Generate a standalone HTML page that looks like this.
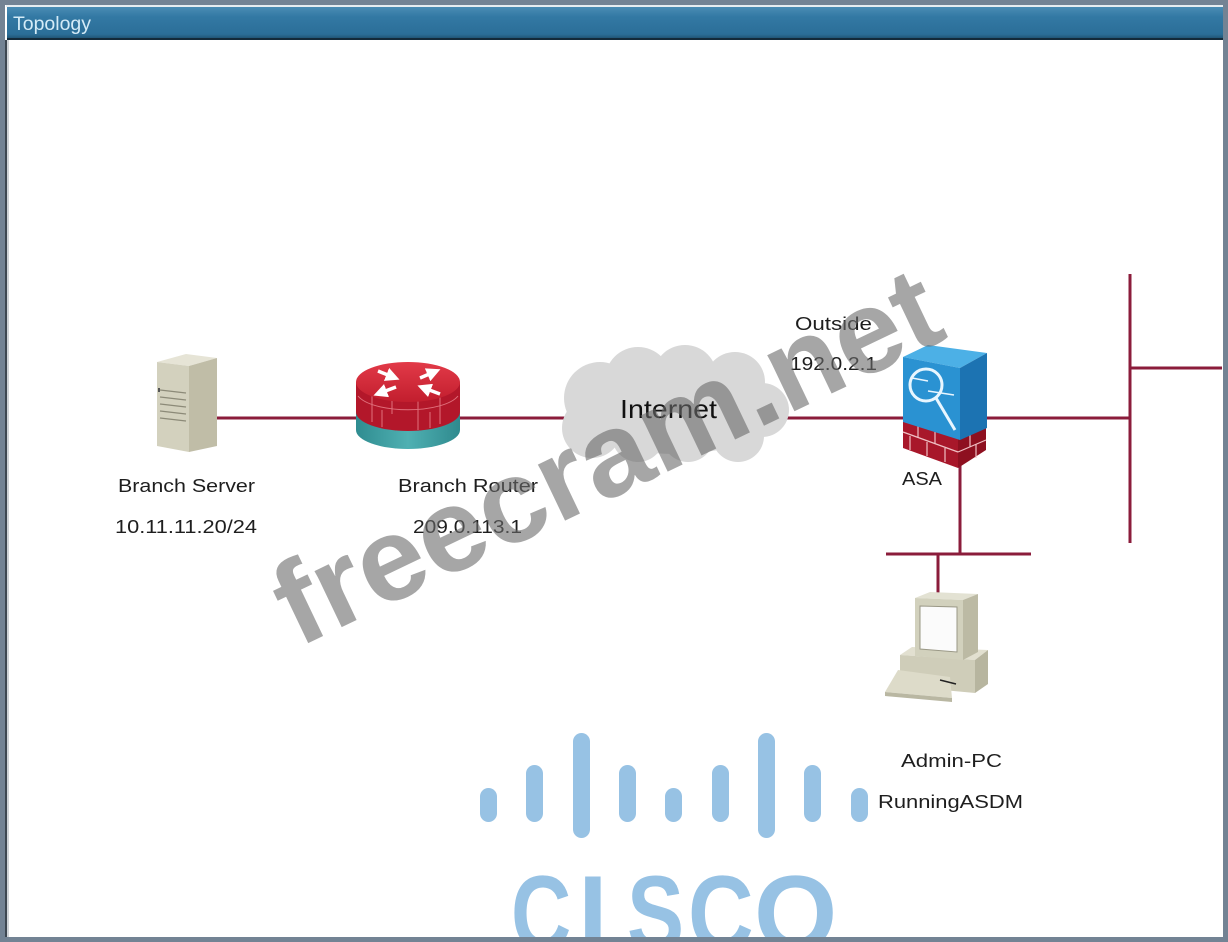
<!DOCTYPE html>
<html><head><meta charset="utf-8"><style>
html,body{margin:0;padding:0;width:1228px;height:942px;overflow:hidden;background:#738394;}
svg{display:block;}
text{font-family:"Liberation Sans",sans-serif;}
</style></head><body>
<svg width="1228" height="942" viewBox="0 0 1228 942" xmlns="http://www.w3.org/2000/svg">
<defs>
<linearGradient id="hg" x1="0" y1="0" x2="0" y2="1">
<stop offset="0" stop-color="#4a8cb4"/><stop offset="0.3" stop-color="#3379a4"/><stop offset="0.85" stop-color="#2b6e98"/><stop offset="1" stop-color="#1e4f6e"/>
</linearGradient>
<linearGradient id="rtop" x1="0" y1="0" x2="0" y2="1">
<stop offset="0" stop-color="#e23a48"/><stop offset="1" stop-color="#c21e2e"/>
</linearGradient>
<linearGradient id="teal" x1="0" y1="0" x2="1" y2="0">
<stop offset="0" stop-color="#2f8c90"/><stop offset="0.5" stop-color="#4fb0b2"/><stop offset="1" stop-color="#2f8a8e"/>
</linearGradient>
<marker id="ah" markerWidth="4" markerHeight="4" refX="2" refY="2" orient="auto" markerUnits="strokeWidth">
<path d="M0,0 L4,2 L0,4 Z" fill="#fff"/>
</marker>
</defs>

<!-- frame -->
<rect x="0" y="0" width="1228" height="942" fill="#738394"/>
<rect x="5" y="5" width="1218" height="932" fill="#ffffff"/>
<rect x="5" y="40" width="2" height="897" fill="#3e4852"/>
<rect x="7" y="40" width="2" height="897" fill="#cfd3d7"/>
<rect x="6" y="5" width="1217" height="2" fill="#e6ecf0"/>
<rect x="7" y="7" width="1216" height="32" fill="url(#hg)"/>
<rect x="7" y="38" width="1216" height="2" fill="#132a3a"/>
<text x="13" y="30" font-size="19" fill="#d4ebf7" textLength="78" lengthAdjust="spacingAndGlyphs">Topology</text>

<!-- connectors -->
<g stroke="#8b1c3b" stroke-width="3" fill="none">
<line x1="215" y1="418" x2="1130" y2="418"/>
<line x1="1130" y1="274" x2="1130" y2="543"/>
<line x1="1130" y1="368" x2="1222" y2="368"/>
<line x1="960" y1="460" x2="960" y2="554"/>
<line x1="886" y1="554" x2="1031" y2="554"/>
<line x1="938" y1="554" x2="938" y2="596"/>
</g>

<!-- Branch server -->
<g>
<polygon points="157,362 186,354 217,358 189,366" fill="#e6e4d6"/>
<polygon points="157,362 189,366 189,452 157,446" fill="#d3d1be"/>
<polygon points="189,366 217,358 217,446 189,452" fill="#c0bda7"/>
<g stroke="#8c8a78" stroke-width="1.2">
<line x1="160" y1="390" x2="186" y2="393"/>
<line x1="160" y1="397" x2="186" y2="400"/>
<line x1="160" y1="404" x2="186" y2="407"/>
<line x1="160" y1="411" x2="186" y2="414"/>
<line x1="160" y1="418" x2="186" y2="421"/>
</g>
<rect x="158" y="388" width="2" height="4" fill="#555"/>
</g>

<!-- Branch router -->
<g>
<path d="M356,410 L356,430 A52,19 0 0 0 460,430 L460,410 Z" fill="url(#teal)"/>
<path d="M356,382 L356,412 A52,19 0 0 0 460,412 L460,382 Z" fill="#b3172a"/>
<g stroke="#e0707c" stroke-width="1" fill="none">
<path d="M358,396 A52,19 0 0 0 458,396"/>
<line x1="372" y1="396" x2="372" y2="422"/>
<line x1="392" y1="400" x2="392" y2="414"/>
<line x1="418" y1="400" x2="418" y2="430"/>
<line x1="440" y1="396" x2="440" y2="424"/>
<line x1="382" y1="410" x2="382" y2="427"/>
<line x1="430" y1="412" x2="430" y2="428"/>
</g>
<ellipse cx="408" cy="382" rx="52" ry="20" fill="url(#rtop)"/>
<g stroke="#ffffff" stroke-width="3.5" fill="none" marker-end="url(#ah)">
<line x1="378" y1="371" x2="393" y2="377"/>
<line x1="420" y1="378" x2="434" y2="372"/>
<line x1="396" y1="387" x2="380" y2="393"/>
<line x1="440" y1="394" x2="424" y2="388"/>
</g>
</g>

<!-- Internet cloud -->
<g fill="#d8d8d8">
<ellipse cx="675" cy="408" rx="105" ry="46"/>
<circle cx="600" cy="398" r="36"/>
<circle cx="638" cy="380" r="33"/>
<circle cx="685" cy="377" r="32"/>
<circle cx="735" cy="382" r="30"/>
<circle cx="762" cy="410" r="27"/>
<circle cx="738" cy="436" r="26"/>
<circle cx="688" cy="436" r="26"/>
<circle cx="638" cy="436" r="26"/>
<circle cx="592" cy="428" r="30"/>
</g>
<text x="620" y="418" font-size="26" fill="#111" textLength="97" lengthAdjust="spacingAndGlyphs">Internet</text>

<!-- ASA -->
<g>
<polygon points="903,420 958,438 958,468 903,448" fill="#a8172a"/>
<polygon points="958,438 986,428 986,450 958,468" fill="#8e1020"/>
<g stroke="#f0c0c4" stroke-width="1.2" fill="none">
<line x1="903" y1="432" x2="958" y2="452"/>
<line x1="958" y1="452" x2="986" y2="440"/>
<line x1="918" y1="426" x2="918" y2="438"/>
<line x1="935" y1="432" x2="935" y2="444"/>
<line x1="910" y1="436" x2="910" y2="450"/>
<line x1="927" y1="442" x2="927" y2="456"/>
<line x1="945" y1="448" x2="945" y2="462"/>
<line x1="970" y1="434" x2="970" y2="447"/>
<line x1="976" y1="444" x2="976" y2="458"/>
</g>
<polygon points="903,357 928,345 987,353 960,368" fill="#4cb0e6"/>
<polygon points="903,357 960,368 960,440 903,422" fill="#2a92d2"/>
<polygon points="960,368 987,353 987,428 960,440" fill="#1c73b2"/>
<g stroke="#e8f6ff" stroke-width="3" fill="none">
<circle cx="926" cy="385" r="16"/>
<line x1="936" y1="398" x2="955" y2="430"/>
</g>
<g stroke="#e8f6ff" stroke-width="1.5" fill="none">
<line x1="912" y1="378" x2="928" y2="381"/>
<line x1="928" y1="391" x2="954" y2="395"/>
</g>
</g>

<!-- Admin PC -->
<g>
<polygon points="900,655 912,647 988,650 975,660" fill="#e2e0d0"/>
<polygon points="900,655 975,660 975,693 900,686" fill="#cfcdb9"/>
<polygon points="975,660 988,650 988,684 975,693" fill="#b7b59f"/>
<polygon points="915,598 930,592 978,594 963,600" fill="#e3e2d3"/>
<polygon points="915,598 963,600 963,660 915,656" fill="#d2d1bd"/>
<polygon points="963,600 978,594 978,652 963,660" fill="#bcbaa4"/>
<polygon points="920,606 957,607 957,652 920,649" fill="#fbfbfb" stroke="#9a9886" stroke-width="1"/>
<polygon points="885,692 898,670 950,677 952,698" fill="#dddbc9"/>
<polygon points="885,692 952,698 952,702 885,696" fill="#b9b7a2"/>
<line x1="940" y1="680" x2="956" y2="684" stroke="#222" stroke-width="1.5"/>
</g>

<!-- labels -->
<g fill="#1e1e1e" font-size="18">
<text x="118" y="492" textLength="137" lengthAdjust="spacingAndGlyphs">Branch Server</text>
<text x="115" y="533" textLength="142" lengthAdjust="spacingAndGlyphs">10.11.11.20/24</text>
<text x="398" y="492" textLength="140" lengthAdjust="spacingAndGlyphs">Branch Router</text>
<text x="413" y="533" textLength="109" lengthAdjust="spacingAndGlyphs">209.0.113.1</text>
<text x="795" y="330" textLength="77" lengthAdjust="spacingAndGlyphs">Outside</text>
<text x="790" y="370" textLength="87" lengthAdjust="spacingAndGlyphs">192.0.2.1</text>
<text x="902" y="485" textLength="40" lengthAdjust="spacingAndGlyphs">ASA</text>
<text x="901" y="767" textLength="101" lengthAdjust="spacingAndGlyphs">Admin-PC</text>
<text x="878" y="808" textLength="145" lengthAdjust="spacingAndGlyphs">RunningASDM</text>
</g>

<!-- watermark -->
<text x="0" y="0" transform="translate(298,648) rotate(-25.5)" font-size="118" font-weight="bold" fill="#6a6a6a" fill-opacity="0.6" textLength="722" lengthAdjust="spacingAndGlyphs">freecram.net</text>

<!-- cisco logo -->
<g fill="#97c2e4">
<rect x="480" y="788" width="17" height="34" rx="8.5"/>
<rect x="526" y="765" width="17" height="57" rx="8.5"/>
<rect x="573" y="733" width="17" height="105" rx="8.5"/>
<rect x="619" y="765" width="17" height="57" rx="8.5"/>
<rect x="665" y="788" width="17" height="34" rx="8.5"/>
<rect x="712" y="765" width="17" height="57" rx="8.5"/>
<rect x="758" y="733" width="17" height="105" rx="8.5"/>
<rect x="804" y="765" width="17" height="57" rx="8.5"/>
<rect x="851" y="788" width="17" height="34" rx="8.5"/>
</g>
<g fill="#97c2e4" font-size="107" font-weight="bold">
<text transform="translate(511,950) scale(0.78,1)">C</text>
<text transform="translate(578,950)">I</text>
<text transform="translate(627,950) scale(0.8,1)">S</text>
<text transform="translate(688,950) scale(0.85,1)">C</text>
<text transform="translate(754,950)">O</text>
</g>

<!-- border overlay -->
<rect x="0" y="937" width="1228" height="5" fill="#738394"/>
<rect x="1223" y="0" width="5" height="942" fill="#738394"/>
<rect x="0" y="0" width="5" height="942" fill="#738394"/>
</svg>
</body></html>
